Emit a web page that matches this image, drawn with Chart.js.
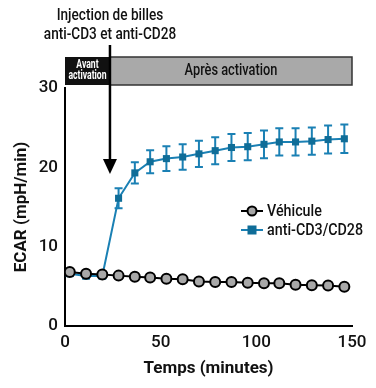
<!DOCTYPE html>
<html>
<head>
<meta charset="utf-8">
<script src="https://cdn.jsdelivr.net/npm/chart.js@4"></script>
<style>
  html, body { margin: 0; padding: 0; background: #fff; }
  #wrap { width: 376px; height: 388px; position: relative; }
</style>
</head>
<body>
<div id="wrap"><canvas id="chart-ecar"></canvas></div>
<script>
const FONT = "Roboto, 'Noto Sans', sans-serif";

// données
const temps = [2.5, 11, 19.5, 28, 36.5, 44.5, 53, 61.5, 70, 78.5, 87, 95.5, 104, 112, 120.5, 129, 137.5, 146];
const vehicule = [6.8, 6.6, 6.5, 6.35, 6.2, 6.1, 5.95, 5.9, 5.6, 5.55, 5.55, 5.45, 5.4, 5.4, 5.2, 5.15, 5.1, 4.95];
const antiCD3 = [6.6, 6.3, 6.3, 16.1, 19.3, 20.7, 21.1, 21.3, 21.7, 22.1, 22.5, 22.6, 22.9, 23.2, 23.2, 23.3, 23.5, 23.6];
const antiCD3Err = [0.3, 0.3, 0.3, 1.25, 1.35, 1.45, 1.55, 1.6, 1.65, 1.7, 1.7, 1.72, 1.74, 1.72, 1.72, 1.72, 1.77, 1.8];
const xTicks = [0, 50, 100, 150];
const yTicks = [0, 10, 20, 30];
const injection = 23.5;

const BLUE = '#1a80b4';
const BLUE_DARK = '#0f6d98';

// texte un peu resserré (la figure d'origine utilise une police condensée)
function narrowText(ctx, text, x, y, sx) {
  ctx.save();
  ctx.translate(x, y);
  ctx.scale(sx, 1);
  ctx.fillText(text, 0, 0);
  ctx.restore();
}

/* ── barres d'erreur ── */
const errorBars = {
  id: 'errorBars',
  beforeDatasetsDraw(chart) {
    const { ctx, scales: { x, y } } = chart;
    ctx.save();
    ctx.strokeStyle = BLUE;
    ctx.lineWidth = 2;
    temps.forEach((t, i) => {
      const px = x.getPixelForValue(t);
      const top = y.getPixelForValue(antiCD3[i] + antiCD3Err[i]);
      const bot = y.getPixelForValue(antiCD3[i] - antiCD3Err[i]);
      ctx.beginPath();
      ctx.moveTo(px, top); ctx.lineTo(px, bot);
      ctx.moveTo(px - 4, top); ctx.lineTo(px + 4, top);
      ctx.moveTo(px - 4, bot); ctx.lineTo(px + 4, bot);
      ctx.stroke();
    });
    ctx.restore();
  }
};

/* ── bandeau, flèche, légende ── */
const annotations = {
  id: 'annotations',
  afterDraw(chart) {
    const { ctx, chartArea: { left, right, top }, scales: { x } } = chart;
    const xi = x.getPixelForValue(injection);
    ctx.save();
    // bandeau
    const bTop = top - 31, bH = 28;
    ctx.fillStyle = '#a9a9a9';
    ctx.strokeStyle = '#333';
    ctx.lineWidth = 1.5;
    ctx.fillRect(xi, bTop, right - xi, bH);
    ctx.strokeRect(xi, bTop, right - xi, bH);
    ctx.fillStyle = '#111';
    ctx.fillRect(left, bTop, xi - left, bH);

    ctx.textAlign = 'center';
    ctx.textBaseline = 'middle';
    ctx.fillStyle = '#fff';
    ctx.font = 'bold 12px ' + FONT;
    narrowText(ctx, 'Avant', (left + xi) / 2, bTop + 8, 0.72);
    narrowText(ctx, 'activation', (left + xi) / 2, bTop + 19, 0.72);
    ctx.fillStyle = '#111';
    ctx.font = '500 16px ' + FONT;
    narrowText(ctx, 'Après activation', (xi + right) / 2, bTop + bH / 2, 0.8);

    // flèche
    const tip = top + 86;
    ctx.strokeStyle = '#000';
    ctx.lineWidth = 2.5;
    ctx.beginPath();
    ctx.moveTo(xi, top - 43);
    ctx.lineTo(xi, tip - 8);
    ctx.stroke();
    ctx.fillStyle = '#000';
    ctx.beginPath();
    ctx.moveTo(xi - 7, tip - 15);
    ctx.lineTo(xi + 7, tip - 15);
    ctx.lineTo(xi, tip);
    ctx.closePath();
    ctx.fill();

    ctx.fillStyle = '#111';
    ctx.font = '500 17px ' + FONT;
    narrowText(ctx, 'Injection de billes', xi, top - 72, 0.8);
    narrowText(ctx, 'anti-CD3 et anti-CD28', xi, top - 53, 0.8);

    // légende
    const lx = 252;
    const rows = [
      { label: 'Véhicule', y: 211, kind: 'circle' },
      { label: 'anti-CD3/CD28', y: 230, kind: 'square' }
    ];
    rows.forEach(r => {
      ctx.lineWidth = 2;
      ctx.strokeStyle = r.kind === 'circle' ? '#000' : BLUE;
      ctx.beginPath();
      ctx.moveTo(lx - 11, r.y); ctx.lineTo(lx + 11, r.y);
      ctx.stroke();
      if (r.kind === 'circle') {
        ctx.fillStyle = '#a8a8a8';
        ctx.beginPath();
        ctx.arc(lx, r.y, 4.5, 0, Math.PI * 2);
        ctx.fill(); ctx.stroke();
      } else {
        ctx.fillStyle = BLUE_DARK;
        ctx.fillRect(lx - 4.5, r.y - 4.5, 9, 9);
      }
      ctx.fillStyle = '#111';
      ctx.font = '500 17px ' + FONT;
      ctx.textAlign = 'left';
      narrowText(ctx, r.label, lx + 15, r.y + 1, 0.84);
    });
    ctx.restore();
  }
};

new Chart(document.getElementById('chart-ecar'), {
  type: 'line',
  data: {
    datasets: [
      {
        label: 'Véhicule',
        data: temps.map((t, i) => ({ x: t, y: vehicule[i] })),
        borderColor: '#000',
        borderWidth: 2,
        pointStyle: 'circle',
        pointRadius: 5,
        pointBorderWidth: 2,
        pointBackgroundColor: '#a8a8a8',
        pointBorderColor: '#000',
        tension: 0
      },
      {
        label: 'anti-CD3/CD28',
        data: temps.map((t, i) => ({ x: t, y: antiCD3[i] })),
        borderColor: BLUE,
        borderWidth: 2,
        pointStyle: 'rect',
        pointRadius: 5,
        pointBorderWidth: 0,
        pointBackgroundColor: BLUE_DARK,
        tension: 0
      }
    ]
  },
  options: {
    responsive: true,
    maintainAspectRatio: false,
    animation: false,
    layout: { padding: { top: 88, right: 24, left: 0, bottom: 0 } },
    plugins: { legend: { display: false }, tooltip: { enabled: false } },
    scales: {
      x: {
        type: 'linear',
        min: 0, max: 150,
        afterBuildTicks: (s) => { s.ticks = xTicks.map(v => ({ value: v })); },
        afterFit: (s) => { s.height = 62; },
        grid: { display: false, drawTicks: true, tickLength: 5, tickColor: '#000', tickWidth: 2 },
        border: { color: '#000', width: 2 },
        ticks: { color: '#111', font: { family: FONT, size: 17, weight: '500' }, padding: 2, maxRotation: 0 },
        title: { display: true, text: 'Temps (minutes)', color: '#111', font: { family: FONT, size: 17, weight: 'bold' }, padding: { top: 1, bottom: 9 } }
      },
      y: {
        min: 0, max: 30,
        afterBuildTicks: (s) => { s.ticks = yTicks.map(v => ({ value: v })); },
        afterFit: (s) => { s.width = 65; },
        grid: { display: false, drawTicks: true, tickLength: 5, tickColor: '#000', tickWidth: 2 },
        border: { color: '#000', width: 2 },
        ticks: { color: '#111', font: { family: FONT, size: 17, weight: '500' }, padding: 2 },
        title: { display: true, text: 'ECAR (mpH/min)', color: '#111', font: { family: FONT, size: 17, weight: 'bold' }, padding: { top: 12, bottom: 0 } }
      }
    }
  },
  plugins: [errorBars, annotations]
});
</script>
</body>
</html>
